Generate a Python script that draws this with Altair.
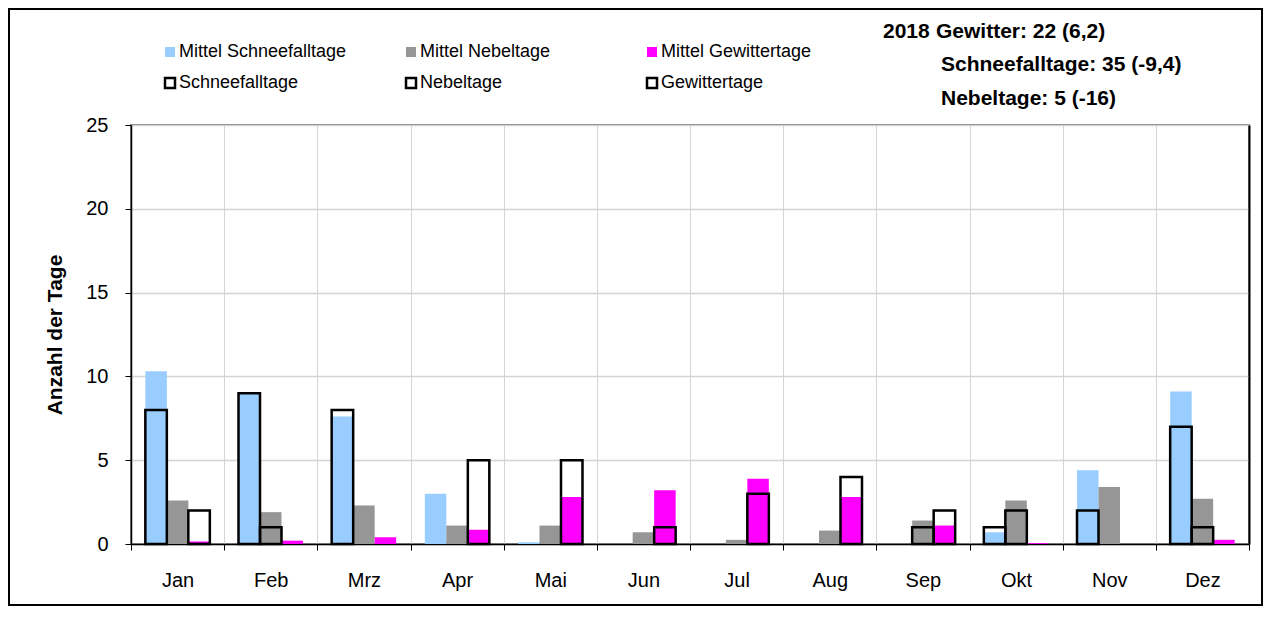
import altair as alt
import pandas as pd

months = ["Jan", "Feb", "Mrz", "Apr", "Mai", "Jun", "Jul", "Aug", "Sep", "Okt", "Nov", "Dez"]
kategorien = ["Schnee", "Nebel", "Gewitter"]
mittel_labels = ["Mittel Schneefalltage", "Mittel Nebeltage", "Mittel Gewittertage"]
labels_2018 = ["Schneefalltage", "Nebeltage", "Gewittertage"]
farben = ["#99CCFF", "#969696", "#FF00FF"]

mittel_schnee = [10.3, 9.0, 7.6, 3.0, 0.1, 0, 0, 0, 0, 0.7, 4.4, 9.1]
mittel_nebel = [2.6, 1.9, 2.3, 1.1, 1.1, 0.7, 0.25, 0.8, 1.4, 2.6, 3.4, 2.7]
mittel_gewitter = [0.15, 0.2, 0.4, 0.85, 2.8, 3.2, 3.9, 2.8, 1.1, 0.05, 0, 0.25]

schnee_2018 = [8, 9, 8, 0, 0, 0, 0, 0, 0, 1, 2, 7]
nebel_2018 = [0, 1, 0, 0, 0, 0, 0, 0, 1, 2, 0, 1]
gewitter_2018 = [2, 0, 0, 5, 5, 1, 3, 4, 2, 0, 0, 0]

annot_jahr = "2018"
annot_zeilen = ["Gewitter: 22 (6,2)", "Schneefalltage: 35 (-9,4)", "Nebeltage: 5 (-16)"]

FONT = "Liberation Sans"

rows_mittel = []
rows_2018 = []
for i, m in enumerate(months):
    for k, ml, l18, mv, v18 in zip(
        kategorien, mittel_labels, labels_2018,
        [mittel_schnee[i], mittel_nebel[i], mittel_gewitter[i]],
        [schnee_2018[i], nebel_2018[i], gewitter_2018[i]],
    ):
        rows_mittel.append({"Monat": m, "kat": k, "label": ml, "wert": mv})
        rows_2018.append({"Monat": m, "kat": k, "label": l18, "wert": v18})

df_mittel = pd.DataFrame(rows_mittel)
df_2018 = pd.DataFrame(rows_2018)

W, H = 1118, 419

x_enc = alt.X(
    "Monat:N", sort=months, title=None,
    scale=alt.Scale(paddingInner=0, paddingOuter=0),
    axis=alt.Axis(
        labelAngle=0, labelFontSize=20, labelColor="black", labelPadding=20,
        tickBand="extent", tickSize=6, tickColor="black", tickWidth=1,
        grid=True, gridColor="#d4d4d4", gridWidth=1,
        domainColor="black", domainWidth=1.5,
    ),
)
xoff_enc = alt.XOffset(
    "kat:N", sort=kategorien,
    scale=alt.Scale(paddingOuter=0.667, paddingInner=0),
)
y_scale = alt.Scale(domain=[0, 25], nice=False)

mittel = alt.Chart(df_mittel).mark_bar().encode(
    x=x_enc,
    xOffset=xoff_enc,
    y=alt.Y(
        "wert:Q", scale=y_scale, title="Anzahl der Tage",
        axis=alt.Axis(
            values=[0, 5, 10, 15, 20, 25], labelFontSize=20, labelColor="black",
            labelPadding=17, tickSize=6, tickColor="black",
            grid=True, gridColor="#d4d4d4", gridWidth=1.5,
            domainColor="black", domainWidth=1.5,
            titleFontSize=21, titleFontWeight="bold", titleColor="black",
            titlePadding=20,
        ),
    ),
    fill=alt.Fill(
        "label:N", sort=mittel_labels,
        scale=alt.Scale(domain=mittel_labels, range=farben),
        legend=alt.Legend(
            title=None, orient="none", legendX=30, legendY=-82,
            direction="horizontal", columns=3, gridAlign="all",
            columnPadding=55, labelFontSize=18, labelColor="black",
            labelLimit=400,
            symbolType="square", symbolSize=100, labelOffset=0, padding=0,
            symbolStrokeWidth=0,
        ),
    ),
)

boxen = alt.Chart(df_2018).transform_filter("datum.wert > 0").mark_bar(
    fill="transparent", strokeWidth=2.5
).encode(
    x=x_enc,
    xOffset=xoff_enc,
    y=alt.Y(
        "wert:Q", scale=y_scale,
        axis=alt.Axis(
            orient="right", labels=False, ticks=False, grid=False, title=None,
            domainColor="black", domainWidth=2,
        ),
    ),
    stroke=alt.Stroke(
        "label:N", sort=labels_2018,
        scale=alt.Scale(domain=labels_2018, range=["black", "black", "black"]),
        legend=alt.Legend(
            title=None, orient="none", legendX=30, legendY=-51,
            direction="horizontal", columns=3, gridAlign="all",
            columnPadding=102, labelFontSize=18, labelColor="black",
            labelLimit=400,
            symbolType="square", symbolSize=100, labelOffset=0, padding=0,
            symbolStrokeWidth=2.5, symbolFillColor="white",
        ),
    ),
)

rahmen = alt.Chart(pd.DataFrame({"r": [0]})).mark_rect(
    fill="transparent", stroke="black", strokeWidth=2
).encode(
    x=alt.value(-122), x2=alt.value(1131), y=alt.value(-116), y2=alt.value(480)
)

txt_style = dict(font=FONT, fontSize=21, fontWeight="bold", align="left",
                 baseline="middle", color="black")
t_jahr = alt.Chart(pd.DataFrame({"t": [annot_jahr]})).mark_text(**txt_style).encode(
    text="t:N", x=alt.value(752), y=alt.value(-93))
t1 = alt.Chart(pd.DataFrame({"t": [annot_zeilen[0]]})).mark_text(**txt_style).encode(
    text="t:N", x=alt.value(805), y=alt.value(-93))
t2 = alt.Chart(pd.DataFrame({"t": [annot_zeilen[1]]})).mark_text(**txt_style).encode(
    text="t:N", x=alt.value(810), y=alt.value(-60))
t3 = alt.Chart(pd.DataFrame({"t": [annot_zeilen[2]]})).mark_text(**txt_style).encode(
    text="t:N", x=alt.value(810), y=alt.value(-26))

chart = alt.layer(rahmen, mittel, boxen, t_jahr, t1, t2, t3).resolve_scale(
    y="shared"
).resolve_axis(y="independent").properties(
    width=W, height=H, padding=0, background="white"
).configure(
    font=FONT
).configure_view(
    stroke="#808080", strokeWidth=2
)

chart.save("out.html", embed_options={"renderer": "svg", "actions": False})
